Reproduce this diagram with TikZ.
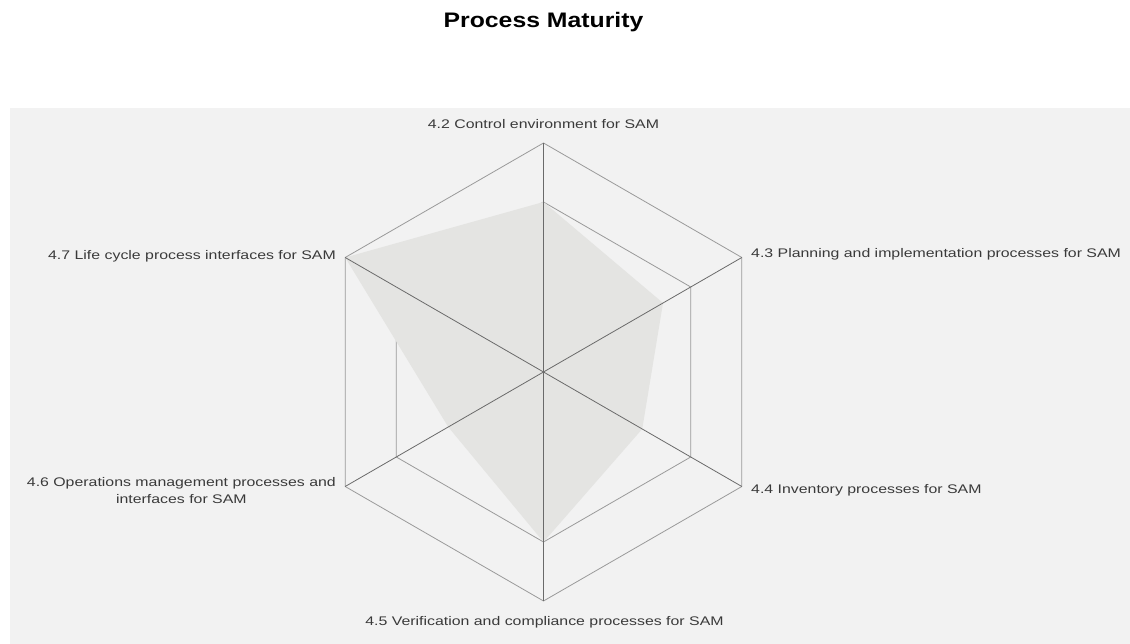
\documentclass[tikz,border=0pt]{standalone}
\usepackage{fontspec}
\newfontfamily\lblfont[FakeStretch=1.27]{Liberation Sans}
\newfontfamily\ttlfont[FakeStretch=1.18]{Liberation Sans}
\definecolor{panelbg}{HTML}{F2F2F2}
\definecolor{shade}{HTML}{E4E4E2}
\definecolor{gridline}{HTML}{9A9A9A}
\definecolor{spoke}{HTML}{6A6A6A}
\definecolor{labeltext}{HTML}{3A3A3A}
\begin{document}
\begin{tikzpicture}[x=1pt,y=1pt,
  lbl/.style={font=\lblfont\fontsize{12.5}{17}\selectfont, text=labeltext, inner sep=0pt},
  ttl/.style={font=\ttlfont\bfseries\fontsize{21}{25}\selectfont, text=black, inner sep=0pt},
  gridedge/.style={draw=gridline, line width=0.8pt},
  spokeline/.style={draw=spoke, line width=0.8pt},
  datafill/.style={fill=shade}]
\useasboundingbox (0,0) rectangle (1130,644);
\fill[white] (0,0) rectangle (1130,644);
\fill[panelbg] (10,0) rectangle (1130,536);
\coordinate (ctr) at (543.5,272);
% outer and inner rings
\foreach \a [count=\i] in {90,30,-30,-90,210,150} {
  \path (ctr) ++(\a:229) coordinate (o\i);
  \path (ctr) ++(\a:170) coordinate (i\i);
}
% data points
\path (ctr) ++(90:170)  coordinate (d1);
\path (ctr) ++(30:138)  coordinate (d2);
\path (ctr) ++(-30:114) coordinate (d3);
\path (ctr) ++(-90:170) coordinate (d4);
\path (ctr) ++(210:110) coordinate (d5);
\path (ctr) ++(150:229) coordinate (d6);
% inner ring (below the data area)
\draw[gridedge] (i1) -- (i2) -- (i3) -- (i4) -- (i5) -- (i6) -- cycle;
% data area
\fill[datafill] (d1) -- (d2) -- (d3) -- (d4) -- (d5) -- (d6) -- cycle;
% outer ring
\draw[gridedge] (o1) -- (o2) -- (o3) -- (o4) -- (o5) -- (o6) -- cycle;
% spokes
\foreach \i in {1,...,6} { \draw[spokeline] (ctr) -- (o\i); }
% title
\node[ttl] (title) at (543.5,622) {Process Maturity};
% axis labels
\node[lbl] (l42) at (543.5,520) {4.2 Control environment for SAM};
\node[lbl, anchor=west] (l43) at (751,390) {4.3 Planning and implementation processes for SAM};
\node[lbl, anchor=west] (l44) at (751,154) {4.4 Inventory processes for SAM};
\node[lbl] (l45) at (544.5,22) {4.5 Verification and compliance processes for SAM};
\node[lbl, anchor=east, align=center] (l46) at (336,153) {4.6 Operations management processes and\\interfaces for SAM};
\node[lbl, anchor=east] (l47) at (336,388) {4.7 Life cycle process interfaces for SAM};
\end{tikzpicture}
\end{document}
